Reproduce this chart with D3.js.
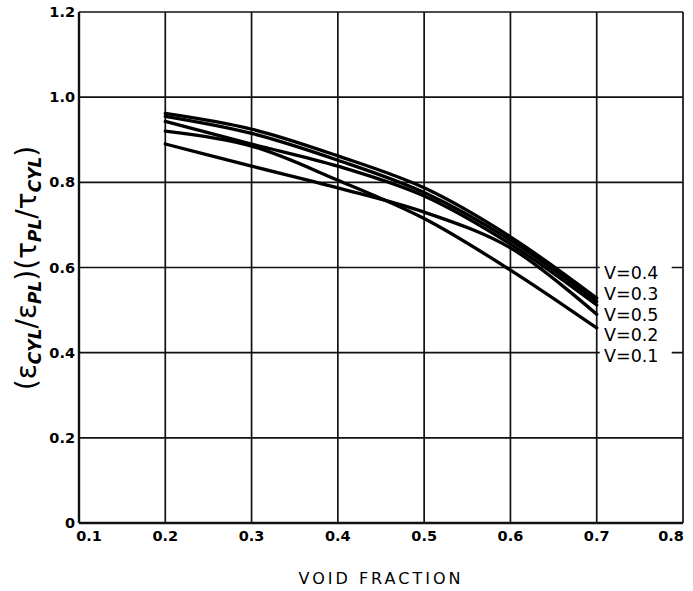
<!DOCTYPE html>
<html><head><meta charset="utf-8">
<script src="https://cdn.jsdelivr.net/npm/d3@7"></script>
<style>body{margin:0;background:#fff}</style>
</head><body>
<svg id="c" width="693" height="591"></svg>
<script>
const voidFraction = [0.2, 0.3, 0.4, 0.5, 0.6, 0.7];
const v04 = [0.962, 0.925, 0.862, 0.787, 0.672, 0.528];
const v03 = [0.955, 0.915, 0.852, 0.776, 0.664, 0.520];
const v05 = [0.943, 0.890, 0.838, 0.768, 0.655, 0.512];
const v02 = [0.890, 0.838, 0.787, 0.730, 0.646, 0.490];
const v01 = [0.920, 0.885, 0.805, 0.715, 0.594, 0.458];
const seriesNames = ["V=0.4", "V=0.3", "V=0.5", "V=0.2", "V=0.1"];
const xTicks = [0.1, 0.2, 0.3, 0.4, 0.5, 0.6, 0.7, 0.8];
const xTickLabels = ["0.1", "0.2", "0.3", "0.4", "0.5", "0.6", "0.7", "0.8"];
const yTicks = [0, 0.2, 0.4, 0.6, 0.8, 1.0, 1.2];
const yTickLabels = ["0", "0.2", "0.4", "0.6", "0.8", "1.0", "1.2"];

const series = [v04, v03, v05, v02, v01];
const svg = d3.select("#c");
const x = d3.scaleLinear().domain([0.1, 0.8]).range([79, 683]);
const y = d3.scaleLinear().domain([0, 1.2]).range([523, 12]);

// grid
svg.append("g").selectAll("line").data(xTicks).join("line")
  .attr("x1", d => x(d)).attr("x2", d => x(d)).attr("y1", y(0)).attr("y2", y(1.2))
  .attr("stroke", "#111").attr("stroke-width", d => (d === 0.1 ? 2.4 : 1.7));
svg.append("g").selectAll("line").data(yTicks).join("line")
  .attr("x1", x(0.1)).attr("x2", x(0.8)).attr("y1", d => y(d)).attr("y2", d => y(d))
  .attr("stroke", "#111").attr("stroke-width", d => (d === 0 ? 2.4 : 1.7));

// curves
const line = d3.line().x((d, i) => x(voidFraction[i])).y(d => y(d)).curve(d3.curveCatmullRom.alpha(0.5));
svg.append("g").selectAll("path").data(series).join("path")
  .attr("d", d => line(d)).attr("fill", "none").attr("stroke", "#000")
  .attr("stroke-width", 3.3).attr("stroke-linecap", "round");

// legend labels (gap in gridlines)
svg.append("rect").attr("x", x(0.7) + 3).attr("y", 257).attr("width", 72).attr("height", 108).attr("fill", "#fff");
svg.append("g").selectAll("text").data(seriesNames).join("text")
  .attr("x", 604).attr("y", (d, i) => 279 + i * 20.8)
  .attr("font-family", "DejaVu Sans, sans-serif").attr("font-size", 17.5)
  .attr("fill", "#000").text(d => d);

// tick labels
svg.append("g").selectAll("text").data(xTicks).join("text")
  .attr("x", (d, i) => x(d) + (i === 0 ? 10 : (i === xTicks.length - 1 ? -12 : 0)))
  .attr("y", 541).attr("text-anchor", "middle")
  .attr("font-family", "DejaVu Sans, sans-serif").attr("font-weight", "bold").attr("font-size", 14.5)
  .attr("fill", "#000").text((d, i) => xTickLabels[i]);
svg.append("g").selectAll("text").data(yTicks).join("text")
  .attr("x", 75).attr("y", d => y(d) + 5).attr("text-anchor", "end")
  .attr("font-family", "DejaVu Sans, sans-serif").attr("font-weight", "bold").attr("font-size", 14.5)
  .attr("fill", "#000").text((d, i) => yTickLabels[i]);

// axis titles
svg.append("text").attr("x", 381).attr("y", 584).attr("text-anchor", "middle")
  .attr("font-family", "DejaVu Sans, sans-serif").attr("font-size", 16).attr("letter-spacing", 3)
  .attr("fill", "#000").text("VOID FRACTION");

const yl = svg.append("text").attr("transform", "translate(36,268) rotate(-90)")
  .attr("text-anchor", "middle").attr("font-family", "DejaVu Sans, sans-serif")
  .attr("font-size", 28).attr("fill", "#000");
const parts = [
  ["(", 0], ["\u03B5", 0], ["CYL", 1], ["/", 0], ["\u03B5", 0], ["PL", 1], [")", 0],
  ["(", 0], ["\u03C4", 0], ["PL", 1], ["/", 0], ["\u03C4", 0], ["CYL", 1], [")", 0]
];
parts.forEach(([t, sub], i) => {
  const prev = i > 0 ? parts[i - 1][1] : 0;
  let dy = 0;
  if (sub && !prev) dy = 5;
  if (!sub && prev) dy = -5;
  const s = yl.append("tspan").text(t).attr("dy", dy);
  if (sub) s.attr("font-size", 17).attr("font-style", "italic").attr("font-weight", "bold");
});
</script>
</body></html>
